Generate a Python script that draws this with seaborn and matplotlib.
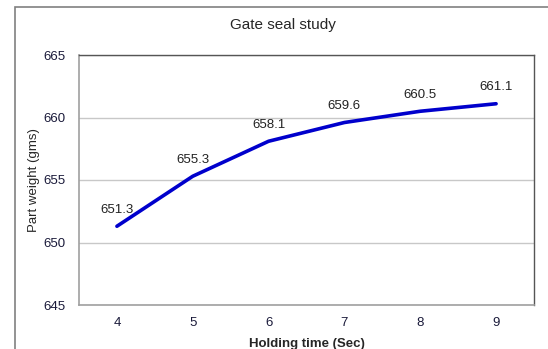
import matplotlib.pyplot as plt
import seaborn as sns
import pandas as pd
from matplotlib.patches import Rectangle
from matplotlib.ticker import FixedLocator

holding_time = [4, 5, 6, 7, 8, 9]
part_weight = [651.3, 655.3, 658.1, 659.6, 660.5, 661.1]
y_ticks = [645, 650, 655, 660, 665]

sns.set_style("white")
plt.rcParams["font.family"] = ["Liberation Sans", "DejaVu Sans"]

df = pd.DataFrame({"Holding time (Sec)": holding_time, "Part weight (gms)": part_weight})

fig = plt.figure(figsize=(5.48, 3.49), dpi=100)
ax = fig.add_axes([79 / 548, 1 - 305 / 349, (534 - 79) / 548, (305 - 55) / 349])

# outer chart frame (runs off the right and bottom of the image)
fig.patches.append(Rectangle((15 / 548, -0.1), 1.2, 1 - 7 / 349 + 0.1,
                             transform=fig.transFigure, fill=False,
                             edgecolor="#808080", linewidth=1.2))

sns.lineplot(data=df, x="Holding time (Sec)", y="Part weight (gms)", ax=ax,
             color="#0000CC", linewidth=2.6)

for x, y in zip(holding_time, part_weight):
    ax.annotate(f"{y:.1f}", (x, y), xytext=(0, 7.5), textcoords="offset points",
                ha="center", va="bottom", fontsize=9.5, color="#222222")

ax.set_xlim(holding_time[0] - 0.5, holding_time[-1] + 0.5)
ax.set_ylim(y_ticks[0], y_ticks[-1])
ax.set_xticks(holding_time)
ax.set_xticklabels([str(h) for h in holding_time])
ax.xaxis.set_minor_locator(FixedLocator([h - 0.5 for h in holding_time] + [holding_time[-1] + 0.5]))
ax.set_yticks(y_ticks)
ax.tick_params(axis="x", which="major", length=0, pad=9, labelsize=9.5, labelcolor="#1a1a3a")
ax.tick_params(axis="x", which="minor", length=3, color="#999999", direction="out")
ax.tick_params(axis="y", length=3, color="#999999", direction="out", pad=7, labelsize=9.5,
               labelcolor="#1a1a3a")
ax.yaxis.grid(True, color="#c8c8c8", linewidth=1)
ax.set_axisbelow(True)

for side in ["left", "bottom"]:
    ax.spines[side].set_color("#a0a0a0")
    ax.spines[side].set_linewidth(1.2)
for side in ["top", "right"]:
    ax.spines[side].set_color("#555555")
    ax.spines[side].set_linewidth(1)

ax.set_xlabel("Holding time (Sec)", fontsize=9.5, fontweight="bold", labelpad=6)
ax.set_ylabel("Part weight (gms)", fontsize=9.5, labelpad=2)
fig.text(283 / 548, 1 - 25 / 349, "Gate seal study", ha="center", va="center", fontsize=11)

plt.savefig("out.png", dpi=100)
